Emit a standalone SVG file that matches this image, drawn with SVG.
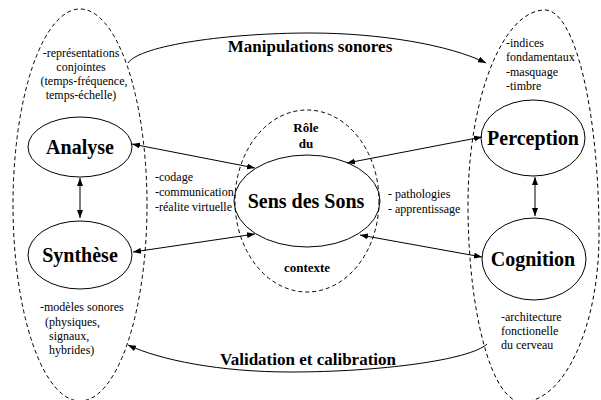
<svg xmlns="http://www.w3.org/2000/svg" width="601" height="400" viewBox="0 0 601 400">
<style>
.node{fill:none;stroke:#000;stroke-width:1}
.zone{fill:none;stroke:#000;stroke-width:1;stroke-dasharray:4,3}
.con{fill:none;stroke:#000;stroke-width:1}
.big{font-family:'Liberation Serif','Times New Roman','DejaVu Serif',serif;font-weight:bold;font-size:20px;fill:#000;text-anchor:middle}
.mid{font-family:'Liberation Serif','Times New Roman','DejaVu Serif',serif;font-weight:bold;font-size:17px;fill:#000;text-anchor:middle}
.lab{font-family:'Liberation Serif','Times New Roman','DejaVu Serif',serif;font-weight:bold;font-size:13px;fill:#000;text-anchor:middle}
.sm{font-family:'Liberation Serif','Times New Roman','DejaVu Serif',serif;font-size:12px;fill:#000}
</style>
<defs>
<marker id="ah" markerUnits="userSpaceOnUse" markerWidth="8" markerHeight="6" refX="8" refY="3" orient="auto-start-reverse">
<path d="M0,0 L8,3 L0,6 z" fill="#000"/>
</marker>
</defs>
<rect width="601" height="400" fill="#fff"/>
<g id="zones">
<ellipse class="zone" cx="80" cy="205" rx="67" ry="196"/>
<path class="zone" d="M545,10 C575,10 599,111 599,235 C599,327 564,402 522,402 C492,402 468,313 468,205 C468,98 503,10 545,10 Z"/>
<ellipse class="zone" cx="307" cy="201" rx="72" ry="91"/>
</g>
<g id="connectors">
<path class="con" d="M132,144 L255,168" marker-start="url(#ah)" marker-end="url(#ah)"/>
<path class="con" d="M133,252 L255,234" marker-start="url(#ah)" marker-end="url(#ah)"/>
<path class="con" d="M482,137 L347,163" marker-start="url(#ah)" marker-end="url(#ah)"/>
<path class="con" d="M482,257 L360,235" marker-start="url(#ah)" marker-end="url(#ah)"/>
<path class="con" d="M80,178 L80,218" marker-start="url(#ah)" marker-end="url(#ah)"/>
<path class="con" d="M535,177 L535,216" marker-start="url(#ah)" marker-end="url(#ah)"/>
<path class="con" d="M128,63 C140,45 230,33 310,33 C380,33 450,45 486,63" marker-end="url(#ah)"/>
<path class="con" d="M487,344 C470,360 380,372 290,372 C220,372 160,360 128,345" marker-end="url(#ah)"/>
<text class="mid" x="310" y="52">Manipulations sonores</text>
<text class="mid" x="308" y="365">Validation et calibration</text>
</g>
<g id="analyse">
<ellipse class="node" cx="80" cy="147" rx="52" ry="30"/>
<text class="big" x="80" y="154">Analyse</text>
</g>
<g id="synthese">
<ellipse class="node" cx="80" cy="255" rx="52" ry="34"/>
<text class="big" x="80" y="262">Synthèse</text>
</g>
<g id="perception">
<ellipse class="node" cx="533" cy="138" rx="52" ry="38"/>
<text class="big" x="533" y="145">Perception</text>
</g>
<g id="cognition">
<ellipse class="node" cx="534" cy="259" rx="52" ry="41"/>
<text class="big" x="533" y="266">Cognition</text>
</g>
<g id="sens">
<ellipse class="node" cx="307" cy="201" rx="73" ry="46"/>
<text class="big" x="306" y="208">Sens des Sons</text>
<text class="lab" x="306" y="132">Rôle</text>
<text class="lab" x="306" y="148">du</text>
<text class="lab" x="307" y="272">contexte</text>
</g>
<g id="notes">
<text class="sm" x="81" y="57" text-anchor="middle">-représentations</text>
<text class="sm" x="81" y="71" text-anchor="middle">conjointes</text>
<text class="sm" x="84" y="85" text-anchor="middle">(temps-fréquence,</text>
<text class="sm" x="81" y="99" text-anchor="middle">temps-échelle)</text>
<text class="sm" x="40" y="311">-modèles sonores</text>
<text class="sm" x="45" y="326">(physiques,</text>
<text class="sm" x="49" y="340">signaux,</text>
<text class="sm" x="49" y="354">hybrides)</text>
<text class="sm" x="506" y="47">-indices</text>
<text class="sm" x="506" y="61">fondamentaux</text>
<text class="sm" x="506" y="76">-masquage</text>
<text class="sm" x="506" y="90">-timbre</text>
<text class="sm" x="501" y="321">-architecture</text>
<text class="sm" x="501" y="335">fonctionelle</text>
<text class="sm" x="501" y="349">du cerveau</text>
<text class="sm" x="155" y="181">-codage</text>
<text class="sm" x="155" y="196">-communication</text>
<text class="sm" x="155" y="211">-réalite virtuelle</text>
<text class="sm" x="388" y="198">- pathologies</text>
<text class="sm" x="388" y="213">- apprentissage</text>
</g>
</svg>
